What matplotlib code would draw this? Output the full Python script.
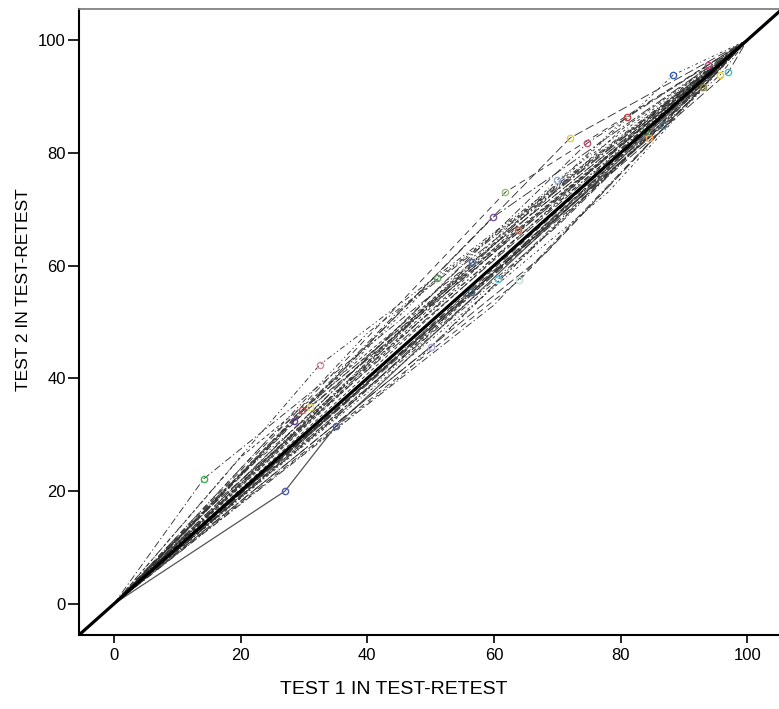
import matplotlib
matplotlib.use("Agg")
import matplotlib.pyplot as plt

plt.rcParams['font.family'] = ['Liberation Sans', 'DejaVu Sans']

# test 1 / test 2 scores per subject
test1 = [
    [0, 14.2, 100], [0, 27, 35, 100], [0, 32.5, 100], [0, 29.7, 100],
    [0, 28.4, 100], [0, 31, 100], [0, 51, 100], [0, 56.6, 100],
    [0, 56.4, 100], [0, 60.7, 100], [0, 63.8, 100], [0, 59.9, 100],
    [0, 61.8, 100], [0, 70, 100], [0, 74.7, 100], [0, 72, 100],
    [0, 81, 100], [0, 83.9, 100], [0, 84.4, 100], [0, 86.7, 100],
    [0, 88.3, 100], [0, 93, 100], [0, 97, 100], [0, 95.7, 100],
    [0, 93.8, 100], [0, 50, 100], [0, 64, 100],
    [0, 45, 100], [0, 60, 100], [0, 68, 100], [0, 40, 100],
    [0, 20, 100], [0, 35, 100], [0, 22, 100], [0, 78, 100],
    [0, 45, 100], [0, 15, 100], [0, 42, 100], [0, 80, 100],
    [0, 55, 100], [0, 25, 100], [0, 38, 100], [0, 70, 100],
    [0, 90, 100], [0, 18, 100], [0, 48, 100], [0, 66, 100],
]
test2 = [
    [0, 22.2, 100], [0, 20, 31.5, 100], [0, 42.4, 100], [0, 34.4, 100],
    [0, 32.4, 100], [0, 35, 100], [0, 57.8, 100], [0, 60.6, 100],
    [0, 55.3, 100], [0, 57.6, 100], [0, 66.3, 100], [0, 68.6, 100],
    [0, 73, 100], [0, 75.2, 100], [0, 81.7, 100], [0, 82.6, 100],
    [0, 86.4, 100], [0, 83.7, 100], [0, 82.6, 100], [0, 85, 100],
    [0, 93.8, 100], [0, 91.7, 100], [0, 94.3, 100], [0, 93.8, 100],
    [0, 95.6, 100], [0, 45.6, 100], [0, 57.4, 100],
    [0, 40, 100], [0, 53, 100], [0, 62, 100], [0, 48, 100],
    [0, 26, 100], [0, 33, 100], [0, 21, 100], [0, 73, 100],
    [0, 52, 100], [0, 17, 100], [0, 44, 100], [0, 84, 100],
    [0, 60, 100], [0, 30, 100], [0, 36, 100], [0, 67, 100],
    [0, 88, 100], [0, 21, 100], [0, 46, 100], [0, 70, 100],
]
marker_colors = [
    '#3cb44b', '#4a5fa5', '#d98b9b', '#d9534f', '#6a3d9a', '#e8e070',
    '#5aa05a', '#4a6fb5', '#3d6680', '#5bc0de', '#d9603b', '#7b4f9e',
    '#a0c080', '#8fb0d8', '#c0507a', '#e0d050', '#c04040', '#4a9a4a',
    '#f0a050', '#507080', '#3060b0', '#8a8a40', '#40c0d0', '#e0d040',
    '#c04080', '#b0a8d8', '#c0e0d0',
]

dashes = [
    (0, (8, 3, 1.5, 3)), (0, (10, 4)), (0, (6, 3, 1.5, 3, 1.5, 3)),
    (0, (4, 3)), (0, (12, 3, 2, 3)), (0, (7, 5)), (0, (3, 3, 1, 3)),
]

fig = plt.figure(figsize=(7.79, 7.09), dpi=100)
ax = fig.add_axes([79 / 779, 74 / 709, 700 / 779, 626 / 709])

for i, (xs, ys) in enumerate(zip(test1, test2)):
    if i == 1:
        ax.plot(xs, ys, color='#555555', lw=0.9, ls='-', zorder=2)
    else:
        ax.plot(xs, ys, color='#333333', lw=0.65, ls=dashes[i % len(dashes)],
                zorder=2)
    if i < len(marker_colors):
        ax.plot(xs[1:-1], ys[1:-1], 'o', ms=4.5, mfc='none',
                mec=marker_colors[i], mew=1.0, zorder=3)

ax.plot([-10, 110], [-10, 110], color='black', lw=2.3, zorder=4)

ax.set_xlim(-5.5, 105)
ax.set_ylim(-5.5, 105.5)
ax.set_xticks([0, 20, 40, 60, 80, 100])
ax.set_yticks([0, 20, 40, 60, 80, 100])

for side in ['left', 'bottom']:
    ax.spines[side].set_linewidth(1.5)
ax.spines['top'].set_color('#777777')
ax.spines['top'].set_linewidth(1.2)
ax.spines['right'].set_visible(False)

ax.tick_params(axis='y', length=8, width=1.2, pad=1.5, labelsize=12)
ax.tick_params(axis='x', length=6, width=1.2, pad=3, labelsize=12)

ax.set_xlabel('TEST 1 IN TEST-RETEST', fontsize=14, va='center')
ax.set_ylabel('TEST 2 IN TEST-RETEST', fontsize=12.5, va='center')
ax.xaxis.set_label_coords(0.449, -0.087)
ax.yaxis.set_label_coords(-0.079, 0.551)

fig.savefig('out.png', dpi=100)
